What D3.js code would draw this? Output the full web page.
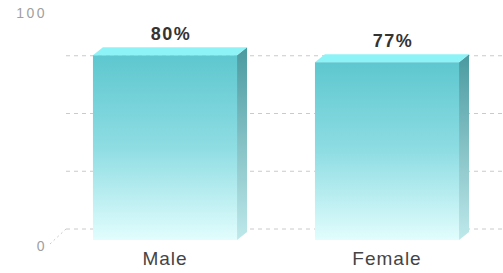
<!DOCTYPE html>
<html>
<head>
<meta charset="utf-8">
<script src="https://cdn.jsdelivr.net/npm/d3@7"></script>
<style>
  body { margin: 0; background: #fff; }
  svg { display: block; font-family: "Liberation Sans", Arial, sans-serif; }
</style>
</head>
<body>
<svg width="503" height="273"></svg>
<script>
var categories = ["Male", "Female"];
var values = [80, 77];
var gridTicks = [0, 25, 50, 75];
var axisLabels = [0, 100];

var svg = d3.select("svg"),
    width = +svg.attr("width"),
    height = +svg.attr("height");

// depth of the 3d bars and of the back wall
var dx = 10, dy = 8;
var wallDx = 16, wallDy = 11;

var x = d3.scaleBand()
    .domain(categories)
    .range([54, 498])
    .paddingInner(0.351)
    .paddingOuter(0.1755);

var y = d3.scaleLinear()
    .domain([0, 100])
    .range([240, 9]);

var defs = svg.append("defs");
var front = defs.append("linearGradient").attr("id", "front")
    .attr("x1", 0).attr("y1", 0).attr("x2", 0).attr("y2", 1);
front.append("stop").attr("offset", "0%").attr("stop-color", "#5ec7cf");
front.append("stop").attr("offset", "50%").attr("stop-color", "#8edde3");
front.append("stop").attr("offset", "100%").attr("stop-color", "#e2fdfd");

var side = defs.append("linearGradient").attr("id", "side")
    .attr("x1", 0).attr("y1", 0).attr("x2", 0).attr("y2", 1);
side.append("stop").attr("offset", "0%").attr("stop-color", "#4a9aa0");
side.append("stop").attr("offset", "100%").attr("stop-color", "#bfe9eb");

// back wall grid
var wallLeft = x.range()[0] + 12;
svg.append("g")
  .selectAll("line")
  .data(gridTicks)
  .enter().append("line")
    .attr("x1", wallLeft)
    .attr("x2", width)
    .attr("y1", d => y(d) - wallDy)
    .attr("y2", d => y(d) - wallDy)
    .attr("stroke", "#cacaca")
    .attr("stroke-width", 1)
    .attr("stroke-dasharray", "4,4");

// floor edge
svg.append("line")
    .attr("x1", wallLeft - wallDx)
    .attr("y1", y(0) + 4)
    .attr("x2", wallLeft)
    .attr("y2", y(0) - wallDy)
    .attr("stroke", "#cacaca")
    .attr("stroke-dasharray", "2,3");

// axis labels
svg.append("g")
  .selectAll("text")
  .data(axisLabels)
  .enter().append("text")
    .attr("x", 47)
    .attr("y", d => y(d) + (d === 0 ? 11 : 9))
    .attr("text-anchor", "end")
    .attr("font-size", "14px")
    .attr("letter-spacing", "2.5px")
    .attr("fill", "#a0a0a0")
    .text(d => d);

var data = categories.map((c, i) => ({ cat: c, val: values[i] }));

var bars = svg.append("g")
  .selectAll("g")
  .data(data)
  .enter().append("g");

bars.append("rect")
    .attr("x", d => x(d.cat))
    .attr("y", d => y(d.val))
    .attr("width", x.bandwidth())
    .attr("height", d => y(0) - y(d.val))
    .attr("fill", "url(#front)");

bars.append("path")
    .attr("d", d => {
      var x1 = x(d.cat) + x.bandwidth(), t = y(d.val), b = y(0);
      return "M" + x1 + "," + t + "L" + (x1 + dx) + "," + (t - dy) +
             "L" + (x1 + dx) + "," + (b - dy) + "L" + x1 + "," + b + "Z";
    })
    .attr("fill", "url(#side)");

bars.append("path")
    .attr("d", d => {
      var x0 = x(d.cat), x1 = x0 + x.bandwidth(), t = y(d.val);
      return "M" + x0 + "," + t + "L" + (x0 + dx) + "," + (t - dy) +
             "L" + (x1 + dx) + "," + (t - dy) + "L" + x1 + "," + t + "Z";
    })
    .attr("fill", "#8ef3f7");

bars.append("text")
    .attr("x", d => x(d.cat) + x.bandwidth() / 2 + dx / 2 + 1)
    .attr("y", d => y(d.val) - dy - 7)
    .attr("text-anchor", "middle")
    .attr("font-size", "18px")
    .attr("font-weight", "bold")
    .attr("letter-spacing", "1.5px")
    .attr("fill", "#333")
    .text(d => d.val + "%");

bars.append("text")
    .attr("x", d => x(d.cat) + x.bandwidth() / 2)
    .attr("y", 265)
    .attr("text-anchor", "middle")
    .attr("font-size", "19px")
    .attr("letter-spacing", "1px")
    .attr("fill", "#444")
    .text(d => d.cat);
</script>
</body>
</html>
